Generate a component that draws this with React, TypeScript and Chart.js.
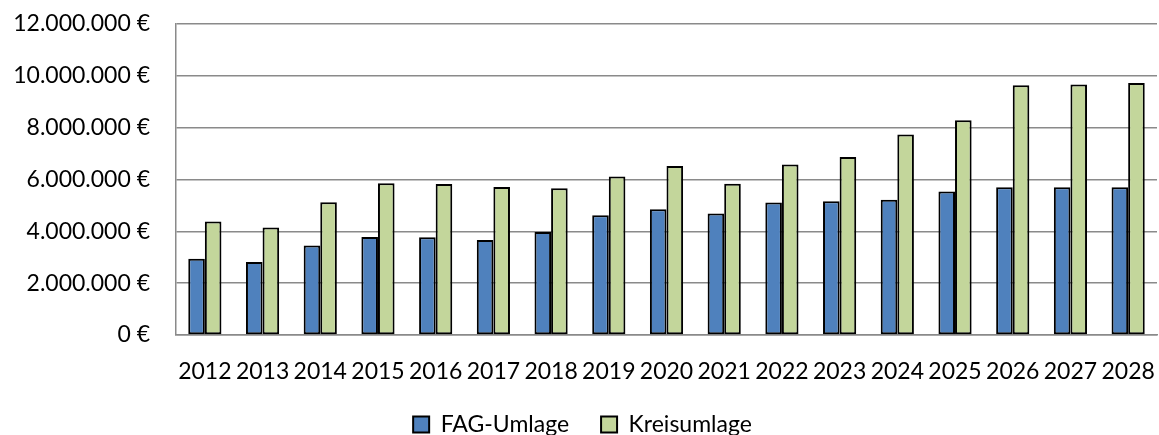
import React, { useEffect, useRef } from "react";
import { Chart, registerables } from "chart.js";

Chart.register(...registerables);

const categories = ["2012", "2013", "2014", "2015", "2016", "2017", "2018", "2019", "2020", "2021", "2022", "2023", "2024", "2025", "2026", "2027", "2028"];
const fagUmlage = [2940000, 2820000, 3450000, 3780000, 3770000, 3670000, 3970000, 4620000, 4850000, 4690000, 5110000, 5160000, 5220000, 5540000, 5700000, 5700000, 5700000];
const kreisumlage = [4380000, 4150000, 5120000, 5860000, 5830000, 5710000, 5660000, 6120000, 6520000, 5840000, 6580000, 6870000, 7740000, 8290000, 9640000, 9670000, 9720000];
const seriesNames = ["FAG-Umlage", "Kreisumlage"];
const yMin = 0;
const yMax = 12000000;
const yStep = 2000000;

const FONT = "Lato, 'Open Sans', sans-serif";

function formatEuro(v: number): string {
  return String(Math.round(v)).replace(/\B(?=(\d{3})+(?!\d))/g, ".") + " €";
}

export default function App() {
  const ref = useRef<HTMLCanvasElement | null>(null);

  useEffect(() => {
    if (!ref.current) return;
    const chart = new Chart(ref.current, {
      type: "bar",
      data: {
        labels: categories,
        datasets: [
          {
            label: seriesNames[0],
            data: fagUmlage,
            backgroundColor: "#4F81BD",
            borderColor: "#000000",
            borderWidth: 2,
            borderSkipped: false,
          },
          {
            label: seriesNames[1],
            data: kreisumlage,
            backgroundColor: "#C3D69B",
            borderColor: "#000000",
            borderWidth: 2,
            borderSkipped: false,
          },
        ],
      },
      options: {
        responsive: false,
        animation: false,
        layout: { padding: { top: 24, left: 8, right: 2, bottom: 0 } },
        datasets: {
          bar: { categoryPercentage: 0.575, barPercentage: 1 },
        },
        plugins: {
          tooltip: { enabled: false },
          legend: {
            position: "bottom",
            labels: {
              font: { family: FONT, size: 23 },
              color: "#000",
              boxWidth: 16,
              boxHeight: 16,
              padding: 32,
            },
          },
        },
        scales: {
          x: {
            grid: { display: false, drawTicks: false },
            border: { display: true, color: "#8a8a8a", width: 1.5 },
            ticks: {
              font: { family: FONT, size: 23 },
              color: "#000",
              padding: 23,
              maxRotation: 0,
              autoSkip: false,
            },
            afterFit: (scale: any) => {
              scale.height = 46;
              scale.paddingLeft = 0;
              scale.paddingRight = 0;
            },
          },
          y: {
            min: yMin,
            max: yMax,
            grid: { color: "#8a8a8a", lineWidth: 1.5, drawTicks: false },
            border: { display: true, color: "#8a8a8a", width: 1.5 },
            ticks: {
              stepSize: yStep,
              font: { family: FONT, size: 23 },
              color: "#000",
              padding: 26,
              callback: (v: any) => formatEuro(Number(v)),
            },
            afterFit: (scale: any) => {
              scale.width = 168;
              scale.paddingTop = 0;
              scale.paddingBottom = 0;
            },
          },
        },
      },
    });
    return () => chart.destroy();
  }, []);

  return (
    <div style={{ position: "absolute", left: 0, top: 0, width: 1159, height: 435, overflow: "hidden", background: "#fff" }}>
      <canvas ref={ref} width={1159} height={446} />
    </div>
  );
}
